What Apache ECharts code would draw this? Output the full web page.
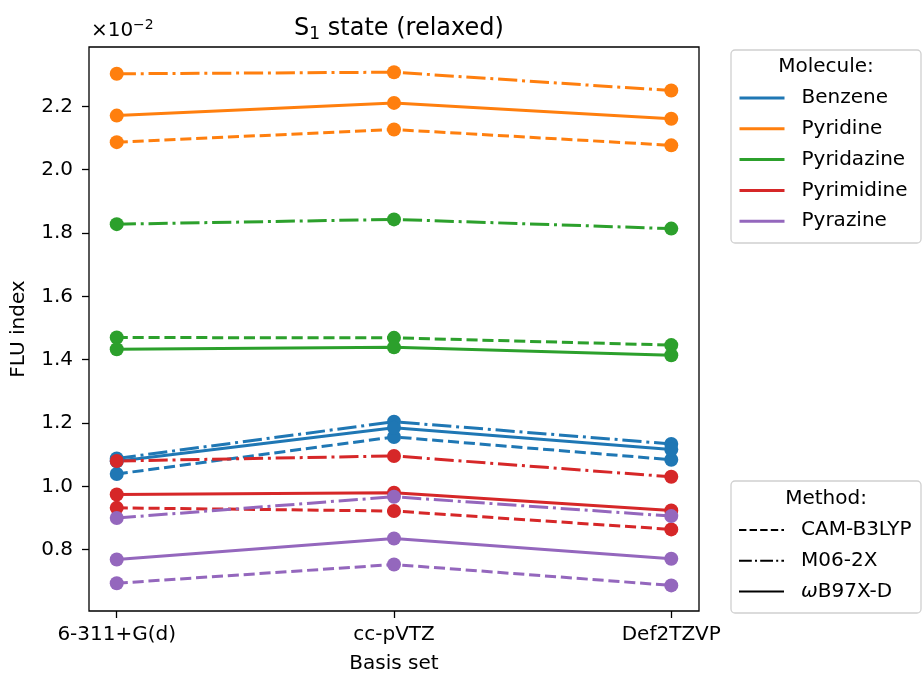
<!DOCTYPE html>
<html>
<head>
<meta charset="utf-8">
<script src="https://cdn.jsdelivr.net/npm/echarts@6/dist/echarts.min.js"></script>
<style>
html,body{margin:0;padding:0;background:#fff;}
#chart{width:922px;height:679px;}
</style>
</head>
<body>
<div id="chart"></div>
<script>
// ---- data (FLU index, in units of 1e-2) ----
var basisSets = ['6-311+G(d)', 'cc-pVTZ', 'Def2TZVP'];
var molecules = ['Benzene', 'Pyridine', 'Pyridazine', 'Pyrimidine', 'Pyrazine'];
var methods = ['CAM-B3LYP', 'M06-2X', 'ωB97X-D'];
var yTicks = [0.8, 1.0, 1.2, 1.4, 1.6, 1.8, 2.0, 2.2];

var benzene    = { 'CAM-B3LYP': [1.039, 1.156, 1.084], 'M06-2X': [1.088, 1.204, 1.134], 'ωB97X-D': [1.079, 1.185, 1.116] };
var pyridine   = { 'CAM-B3LYP': [2.087, 2.127, 2.077], 'M06-2X': [2.303, 2.308, 2.250], 'ωB97X-D': [2.171, 2.211, 2.161] };
var pyridazine = { 'CAM-B3LYP': [1.470, 1.469, 1.446], 'M06-2X': [1.828, 1.843, 1.814], 'ωB97X-D': [1.433, 1.439, 1.414] };
var pyrimidine = { 'CAM-B3LYP': [0.932, 0.922, 0.864], 'M06-2X': [1.080, 1.096, 1.030], 'ωB97X-D': [0.974, 0.980, 0.924] };
var pyrazine   = { 'CAM-B3LYP': [0.694, 0.753, 0.687], 'M06-2X': [0.900, 0.967, 0.906], 'ωB97X-D': [0.769, 0.835, 0.771] };

var moleculeData = [benzene, pyridine, pyridazine, pyrimidine, pyrazine];
var moleculeColors = ['#1f77b4', '#ff7f0e', '#2ca02c', '#d62728', '#9467bd'];

// line styles
var seriesDash = { 'CAM-B3LYP': [11.1, 4.8], 'M06-2X': [19.2, 4.8, 3, 4.8], 'ωB97X-D': 'solid' };
var legendDash = { 'CAM-B3LYP': [7.4, 3.2], 'M06-2X': [12.8, 3.2, 2, 3.2], 'ωB97X-D': 'solid' };

var FONT = 'DejaVu Sans';
var series = [];
molecules.forEach(function (mol, mi) {
  methods.forEach(function (meth) {
    var vals = moleculeData[mi][meth];
    series.push({
      type: 'line',
      name: mol + ' / ' + meth,
      data: vals.map(function (v, i) { return [i, v]; }),
      symbol: 'circle',
      symbolSize: 14,
      showSymbol: true,
      lineStyle: { color: moleculeColors[mi], width: 3, type: seriesDash[meth] },
      itemStyle: { color: moleculeColors[mi], borderWidth: 0 },
      emphasis: { disabled: true },
      silent: true,
      z: 2
    });
  });
});
// legend-only series
molecules.forEach(function (mol, mi) {
  series.push({ type: 'line', name: mol, data: [], symbol: 'none',
    lineStyle: { color: moleculeColors[mi], width: 3, type: 'solid' },
    itemStyle: { color: moleculeColors[mi] } });
});
methods.forEach(function (meth) {
  series.push({ type: 'line', name: meth, data: [], symbol: 'none',
    lineStyle: { color: '#000', width: 2, type: legendDash[meth] },
    itemStyle: { color: '#000' } });
});

var legendText = { fontFamily: FONT, fontSize: 20, color: '#000', lineHeight: 20, padding: [0, 0, 0, 12],
  rich: { i: { fontFamily: FONT, fontSize: 20, fontStyle: 'italic', color: '#000', lineHeight: 20 },
          n: { fontFamily: FONT, fontSize: 20, color: '#000', lineHeight: 20 } } };

var legendCommon = {
  orient: 'vertical',
  left: 738,
  padding: 0,
  itemWidth: 45,
  itemHeight: 20,
  itemGap: 10.8,
  selectedMode: false,
  itemStyle: { opacity: 0 },
  textStyle: legendText,
  z: 10
};

var chart = echarts.init(document.getElementById('chart'), null, { renderer: 'canvas' });
chart.setOption({
  animation: false,
  backgroundColor: '#fff',
  textStyle: { fontFamily: FONT },
  title: {
    text: '{a|S}{s|1}{a| state (relaxed)}',
    left: 394, top: 10, textAlign: 'center',
    textStyle: { fontFamily: FONT, fontSize: 24, fontWeight: 'normal', color: '#000',
      rich: {
        a: { fontFamily: FONT, fontSize: 24, color: '#000', lineHeight: 28, verticalAlign: 'middle' },
        s: { fontFamily: FONT, fontSize: 17, color: '#000', lineHeight: 17, verticalAlign: 'bottom' }
      } }
  },
  grid: { left: 89, right: 223, top: 47, bottom: 65, show: true, borderColor: '#000', borderWidth: 1.3, backgroundColor: 'transparent' },
  xAxis: {
    type: 'value', min: -0.1, max: 2.1,
    name: 'Basis set', nameLocation: 'middle', nameGap: 43,
    nameTextStyle: { fontFamily: FONT, fontSize: 20, color: '#000' },
    axisLine: { show: false, onZero: false },
    splitLine: { show: false },
    axisTick: { show: true, length: 7, lineStyle: { color: '#000', width: 1.3 }, customValues: basisSets.map(function (b, i) { return i; }) },
    axisLabel: { fontFamily: FONT, fontSize: 20, color: '#000', margin: 14,
      customValues: basisSets.map(function (b, i) { return i; }),
      formatter: function (v) { return basisSets[Math.round(v)]; } }
  },
  yAxis: {
    type: 'value', min: 0.6062, max: 2.3876,
    name: 'FLU index', nameLocation: 'middle', nameGap: 60, nameRotate: 90,
    nameTextStyle: { fontFamily: FONT, fontSize: 20, color: '#000' },
    axisLine: { show: false, onZero: false },
    splitLine: { show: false },
    axisTick: { show: true, length: 7, lineStyle: { color: '#000', width: 1.3 }, customValues: yTicks },
    axisLabel: { fontFamily: FONT, fontSize: 20, color: '#000', margin: 16, customValues: yTicks,
      formatter: function (v) { return v.toFixed(1); } }
  },
  legend: [
    Object.assign({}, legendCommon, { top: 88, data: molecules, lineStyle: { width: 3 } }),
    Object.assign({}, legendCommon, { top: 520, data: methods, lineStyle: { width: 2 },
      formatter: function (name) { return name.charAt(0) === 'ω' ? '{i|ω}{n|' + name.slice(1) + '}' : name; } })
  ],
  graphic: [
    { type: 'rect', shape: { x: 731, y: 50, width: 190, height: 193, r: 4 }, style: { fill: '#fff', stroke: '#d0d0d0', lineWidth: 1.3 }, z: 1 },
    { type: 'text', x: 826, y: 67, style: { text: 'Molecule:', font: '20px "DejaVu Sans"', fill: '#000', align: 'center', verticalAlign: 'middle' }, z: 3 },
    { type: 'rect', shape: { x: 731, y: 481, width: 190, height: 132, r: 4 }, style: { fill: '#fff', stroke: '#d0d0d0', lineWidth: 1.3 }, z: 1 },
    { type: 'text', x: 826, y: 499, style: { text: 'Method:', font: '20px "DejaVu Sans"', fill: '#000', align: 'center', verticalAlign: 'middle' }, z: 3 },
    { type: 'text', x: 91, y: 31, style: { text: '×10', font: '20px "DejaVu Sans"', fill: '#000', align: 'left', verticalAlign: 'middle' }, z: 3 },
    { type: 'text', x: 133, y: 25, style: { text: '\u22122', font: '14px "DejaVu Sans"', fill: '#000', align: 'left', verticalAlign: 'middle' }, z: 3 }
  ],
  series: series
});
</script>
</body>
</html>
